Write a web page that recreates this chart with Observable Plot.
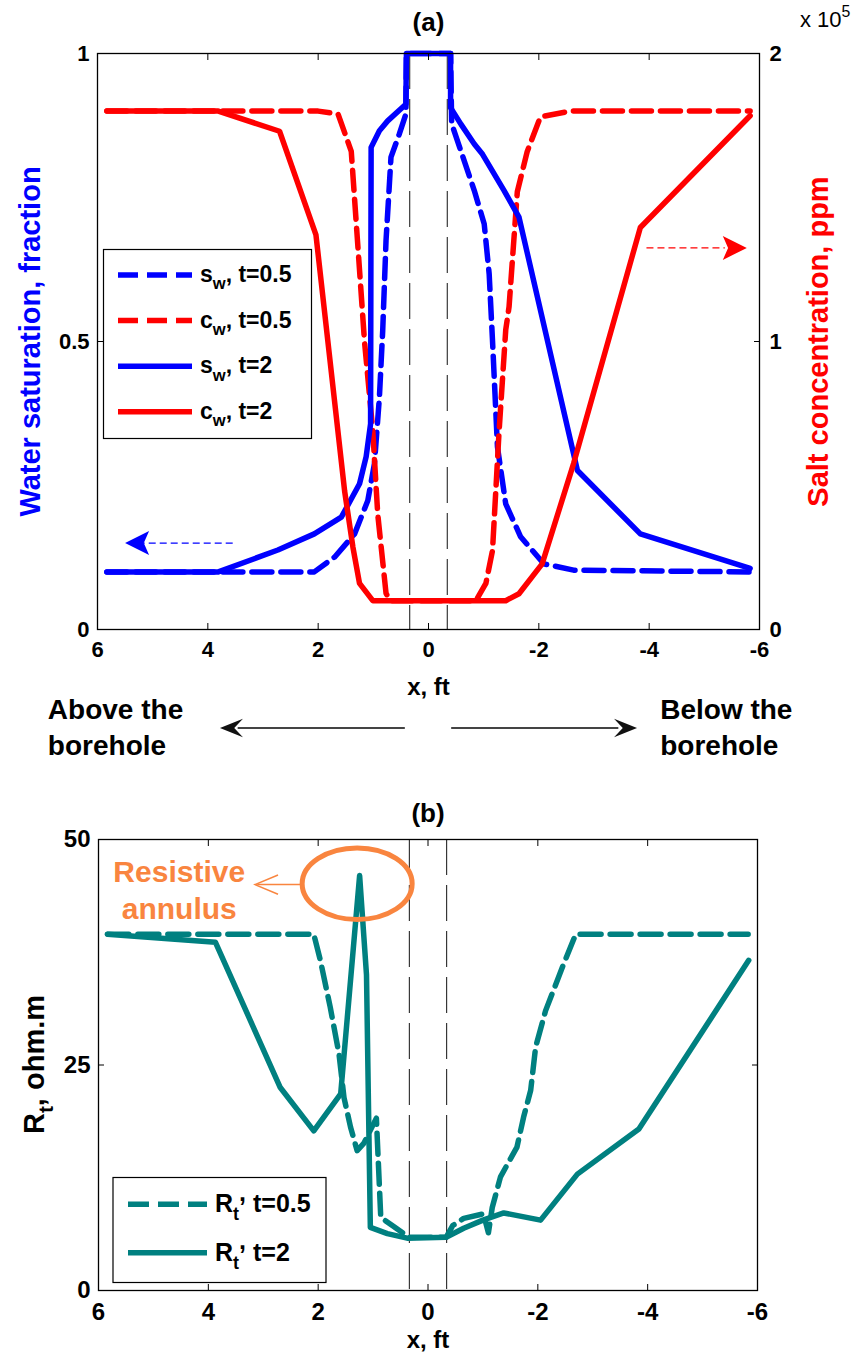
<!DOCTYPE html>
<html>
<head>
<meta charset="utf-8">
<script src="https://cdn.jsdelivr.net/npm/d3@7"></script>
<script src="https://cdn.jsdelivr.net/npm/@observablehq/plot@0.6"></script>
<style>
  html, body { margin: 0; background: #fff; }
  #fig { position: relative; width: 861px; height: 1368px; overflow: hidden; background: #fff; }
  #fig svg { position: absolute; left: 0; overflow: visible; }
</style>
</head>
<body>
<div id="fig"></div>
<script>
// ---------- data ----------
// x: distance from the borehole axis in ft (positive = above the borehole)
const xTicks = [6, 4, 2, 0, -2, -4, -6];
const swTicks = [0, 0.5, 1];
const rtTicks = [0, 25, 50];
const boreholeWall = [0.34, -0.34];
const cFull = 200000; // right axis spans 0 .. 2 x 10^5 ppm

// water saturation, t = 0.5
const swX_t05 = [5.83, 2.07, 1.70, 1.34, 1.10, 0.98, 0.89, 0.83, 0.77, 0.68, 0.53, 0.41, 0.40, -0.40, -0.42, -0.59, -0.83, -1.01, -1.10, -1.16, -1.25, -1.40, -1.67, -2.09, -2.63, -5.83];
const sw_t05  = [0.100, 0.100, 0.126, 0.166, 0.224, 0.288, 0.403, 0.519, 0.675, 0.820, 0.860, 0.895, 1.000, 1.000, 0.878, 0.830, 0.762, 0.704, 0.617, 0.502, 0.317, 0.218, 0.161, 0.114, 0.103, 0.100];
// salt concentration (ppm), t = 0.5
const cwX_t05 = [5.83, 2.00, 1.64, 1.40, 1.16, 1.01, 0.92, 0.77, 0.70, -0.86, -1.04, -1.16, -1.28, -1.40, -1.46, -1.61, -1.79, -2.03, -2.57, -5.83];
const cw_t05  = [180000, 180000, 179000, 166000, 100000, 69000, 40000, 12600, 10000, 10000, 16000, 27400, 69000, 104000, 112000, 152000, 166000, 178000, 180000, 180000];
// water saturation, t = 2
const swX_t2 = [5.83, 3.81, 2.73, 2.07, 1.58, 1.25, 1.13, 1.05, 1.04, 0.89, 0.74, 0.41, 0.40, -0.40, -0.40, -0.59, -0.83, -0.98, -1.37, -1.64, -2.70, -3.84, -5.83];
const sw_t2  = [0.100, 0.100, 0.138, 0.166, 0.195, 0.253, 0.300, 0.357, 0.837, 0.866, 0.883, 0.912, 1.000, 1.000, 0.906, 0.877, 0.843, 0.825, 0.762, 0.716, 0.276, 0.166, 0.106];
// salt concentration (ppm), t = 2
const cwX_t2 = [5.83, 3.81, 2.70, 2.04, 1.52, 1.37, 1.25, 1.01, -1.40, -1.64, -2.06, -2.63, -3.84, -5.83];
const cw_t2  = [180000, 180000, 173000, 137000, 48000, 28600, 16000, 10000, 10000, 12400, 22800, 57600, 139600, 178400];

// formation resistivity (ohm.m), t = 0.5
const rtX_t05 = [5.83, 2.08, 1.96, 1.78, 1.62, 1.53, 1.41, 1.29, 1.17, 0.94, 0.86, 0.65, 0.35, -0.33, -0.45, -0.65, -1.01, -1.10, -1.17, -1.32, -1.62, -1.74, -1.87, -1.96, -2.14, -2.47, -2.69, -5.83];
const rt_t05  = [39.5, 39.5, 36.6, 31.4, 26.2, 21.4, 18.1, 15.5, 16.3, 19.1, 8.1, 7.2, 5.9, 5.9, 7.2, 8.0, 8.5, 6.4, 9.2, 12.6, 15.9, 19.2, 22.2, 27.0, 31.0, 36.2, 39.5, 39.5];
// formation resistivity (ohm.m), t = 2
const rtX_t2 = [5.84, 3.87, 2.69, 2.08, 1.59, 1.245, 1.12, 1.05, 0.74, 0.38, -0.33, -0.65, -1.00, -1.38, -2.05, -2.72, -3.84, -5.84];
const rt_t2  = [39.5, 38.6, 22.5, 17.7, 21.8, 46.0, 35.0, 7.0, 6.3, 5.8, 5.9, 6.9, 7.8, 8.6, 7.8, 12.9, 17.9, 36.6];

// annotations (data units)
const swHint = [{from: 3.54, to: 5.15, tip: 5.5, sw: 0.15}];
const cwHint = [{from: -3.96, to: -5.38, tip: -5.77, cw: 132500}];
const sideArrows = [{from: 0.42, to: 3.45, tip: 3.78, level: -0.171}, {from: -0.42, to: -3.45, tip: -3.78, level: -0.171}];
const sideLabels = [{x: 6.9, level: -0.218, text: "Above the\nborehole"}, {x: -4.2, level: -0.218, text: "Below the\nborehole"}];
const annulusMark = [{x: 1.29, rt: 45.1}];
const annulusPointer = [{from: 2.30, to: 3.10, tip: 3.15, rt: 45.0}];
const annulusNote = [{x: 4.53, rt: 41.2, text: "Resistive\nannulus"}];

const legendA = [
  {sym: "s", sub: "w", label: ", t=0.5"},
  {sym: "c", sub: "w", label: ", t=0.5"},
  {sym: "s", sub: "w", label: ", t=2"},
  {sym: "c", sub: "w", label: ", t=2"}
];
const legendB = [
  {sym: "R", sub: "t", label: " t=0.5"},
  {sym: "R", sub: "t", label: " t=2"}
];

// ---------- styling ----------
const FONT = "'Liberation Sans', Arial, Helvetica, sans-serif";
const BLUE = "#0000ff", RED = "#ff0000", TEAL = "#008080", ORANGE = "#f9853f";
const DASH = "20,9";
const LW = 5.5;

const pts = (xs, vs) => xs.map((x, i) => ({x, v: vs[i]}));

// filled arrowhead, tip at the anchor, pointing along +x
const arrowHead = (notch, spread) => ({
  draw(ctx, size) {
    const L = Math.sqrt(size / Math.PI);
    ctx.moveTo(0, 0);
    ctx.lineTo(-L, -L * spread);
    ctx.lineTo(-L * notch, 0);
    ctx.lineTo(-L, L * spread);
    ctx.closePath();
  }
});
// open arrowhead
const chevron = {
  draw(ctx, size) {
    const L = Math.sqrt(size / Math.PI);
    ctx.moveTo(-L, -0.42 * L);
    ctx.lineTo(0, 0);
    ctx.lineTo(-L, 0.42 * L);
  }
};
// ellipse outline with horizontal semi-axis r
const ellipse = (ratio) => ({
  draw(ctx, size) {
    const rx = Math.sqrt(size / Math.PI), ry = rx * ratio, k = 0.5523;
    ctx.moveTo(rx, 0);
    ctx.bezierCurveTo(rx, k * ry, k * rx, ry, 0, ry);
    ctx.bezierCurveTo(-k * rx, ry, -rx, k * ry, -rx, 0);
    ctx.bezierCurveTo(-rx, -k * ry, -k * rx, -ry, 0, -ry);
    ctx.bezierCurveTo(k * rx, -ry, rx, -k * ry, rx, 0);
    ctx.closePath();
  }
});

// text with sub/superscript pieces
function richText(g, x, y, parts, size, attrs = {}) {
  const t = g.append("text").attr("x", x).attr("y", y).attr("font-size", size).attr("text-anchor", "start");
  for (const [k, v] of Object.entries(attrs)) t.attr(k, v);
  let shift = 0;
  for (const p of parts) {
    const target = (p.shift || 0) * size;
    const ts = t.append("tspan").attr("dy", target - shift).text(p.text);
    if (p.small) ts.attr("font-size", size * 0.72);
    shift = target;
  }
  return t;
}

function boxAxes(yTicks, yFmtLeft, yFmtRight) {
  const marks = [
    Plot.frame({stroke: "#000", strokeWidth: 1.3}),
    Plot.axisX({ticks: xTicks, anchor: "bottom", tickSize: -6, tickFormat: () => "", label: null}),
    Plot.axisX({ticks: xTicks, anchor: "top", tickSize: -6, tickFormat: () => "", label: null}),
    Plot.axisY({ticks: yTicks, anchor: "left", tickSize: -6, tickFormat: () => "", label: null}),
    Plot.axisY({ticks: yTicks, anchor: "right", tickSize: -6, tickFormat: () => "", label: null}),
    Plot.axisX({ticks: xTicks, anchor: "bottom", tickSize: 0, tickPadding: 12, tickFormat: d => `${d}`, label: null}),
    Plot.axisY({ticks: yTicks, anchor: "left", tickSize: 0, tickPadding: 8, tickFormat: yFmtLeft, label: null})
  ];
  if (yFmtRight) marks.push(Plot.axisY({ticks: yTicks, anchor: "right", tickSize: 0, tickPadding: 10, tickFormat: yFmtRight, label: null}));
  return marks;
}

const fig = d3.select("#fig");

// ---------- panel (a): saturation and salt concentration ----------
const A = {top: 53, bottom: 629, left: 97, right: 759, h: 770};
const plotA = Plot.plot({
  width: 861, height: A.h,
  marginTop: A.top, marginBottom: A.h - A.bottom, marginLeft: A.left, marginRight: 861 - A.right,
  style: {fontFamily: FONT, fontWeight: "bold", fontSize: "22px", color: "#000", background: "transparent", overflow: "visible"},
  x: {domain: [6, -6]},
  y: {domain: [0, 1]},
  marks: [
    Plot.ruleX(boreholeWall, {stroke: "#111", strokeWidth: 1, strokeDasharray: "36,10"}),
    Plot.line(pts(swX_t05, sw_t05), {x: "x", y: "v", stroke: BLUE, strokeWidth: LW, strokeDasharray: DASH, strokeLinejoin: "round"}),
    Plot.line(pts(cwX_t05, cw_t05), {x: "x", y: d => d.v / cFull, stroke: RED, strokeWidth: LW, strokeDasharray: DASH, strokeLinejoin: "round"}),
    Plot.line(pts(swX_t2, sw_t2), {x: "x", y: "v", stroke: BLUE, strokeWidth: LW, strokeLinejoin: "round"}),
    Plot.line(pts(cwX_t2, cw_t2), {x: "x", y: d => d.v / cFull, stroke: RED, strokeWidth: LW, strokeLinejoin: "round"}),
    // axis hints: saturation reads on the left axis, concentration on the right
    Plot.ruleY(swHint, {x1: "from", x2: "to", y: "sw", stroke: BLUE, strokeWidth: 1.2, strokeDasharray: "7,4"}),
    Plot.dot(swHint, {x: "tip", y: "sw", symbol: arrowHead(0.78, 0.5), r: 24, fill: BLUE, stroke: null, rotate: 180}),
    Plot.ruleY(cwHint, {x1: "from", x2: "to", y: d => d.cw / cFull, stroke: RED, strokeWidth: 1.2, strokeDasharray: "7,4"}),
    Plot.dot(cwHint, {x: "tip", y: d => d.cw / cFull, symbol: arrowHead(0.78, 0.5), r: 24, fill: RED, stroke: null, rotate: 0}),
    ...boxAxes(swTicks, d => `${d}`, d => `${d * cFull / 1e5}`),
    Plot.text(["(a)"], {frameAnchor: "top", dy: -31, lineAnchor: "middle", textAnchor: "middle", fontSize: 26}),
    Plot.text(["x, ft"], {frameAnchor: "bottom", dy: 58, lineAnchor: "middle", textAnchor: "middle", fontSize: 24}),
    Plot.text(["Water saturation, fraction"], {frameAnchor: "left", dx: -67, rotate: -90, textAnchor: "middle", lineAnchor: "middle", fill: BLUE, fontSize: 29}),
    Plot.text(["Salt concentration, ppm"], {frameAnchor: "right", dx: 59, rotate: -90, textAnchor: "middle", lineAnchor: "middle", fill: RED, fontSize: 29}),
    // direction labels below the axis
    Plot.ruleY(sideArrows, {x1: "from", x2: "to", y: "level", stroke: "#444", strokeWidth: 2}),
    Plot.dot(sideArrows, {x: "tip", y: "level", symbol: arrowHead(0.62, 0.4), r: 23, fill: "#111", stroke: null, rotate: d => d.tip > 0 ? 180 : 0}),
    Plot.text(sideLabels, {x: "x", y: "level", text: "text", textAnchor: "start", lineAnchor: "bottom", lineHeight: 1.28, fontSize: 28})
  ]
});
fig.append(() => plotA).style("top", "0px");

const gA = d3.select(plotA).append("g");
richText(gA, 800, 27, [{text: "x 10"}, {text: "5", small: true, shift: -0.45}], 22, {"font-weight": "normal"});
gA.append("rect").attr("x", 103.5).attr("y", 249.5).attr("width", 208).attr("height", 189)
  .attr("fill", "#fff").attr("stroke", "#000").attr("stroke-width", 1.2);
const legendStylesA = [
  {stroke: BLUE, dash: DASH}, {stroke: RED, dash: DASH}, {stroke: BLUE, dash: null}, {stroke: RED, dash: null}
];
legendA.forEach((d, i) => {
  const y = 275 + i * 45.6;
  gA.append("line").attr("x1", 118).attr("x2", 192).attr("y1", y).attr("y2", y)
    .attr("stroke", legendStylesA[i].stroke).attr("stroke-width", LW)
    .attr("stroke-dasharray", legendStylesA[i].dash);
  richText(gA, 200, y + 7, [{text: d.sym}, {text: d.sub, small: true, shift: 0.32}, {text: d.label}], 23);
});

// ---------- panel (b): formation resistivity ----------
const B = {top: 69, bottom: 520, left: 98, right: 757, h: 598, offset: 770};
const plotB = Plot.plot({
  width: 861, height: B.h,
  marginTop: B.top, marginBottom: B.h - B.bottom, marginLeft: B.left, marginRight: 861 - B.right,
  style: {fontFamily: FONT, fontWeight: "bold", fontSize: "24px", color: "#000", background: "transparent", overflow: "visible"},
  x: {domain: [6, -6]},
  y: {domain: [0, 50]},
  marks: [
    Plot.ruleX(boreholeWall, {stroke: "#111", strokeWidth: 1, strokeDasharray: "36,10"}),
    Plot.line(pts(rtX_t05, rt_t05), {x: "x", y: "v", stroke: TEAL, strokeWidth: LW, strokeDasharray: "21,9", strokeLinejoin: "round"}),
    Plot.line(pts(rtX_t2, rt_t2), {x: "x", y: "v", stroke: TEAL, strokeWidth: LW, strokeLinejoin: "round"}),
    Plot.dot(annulusMark, {x: "x", y: "rt", symbol: ellipse(0.65), r: 55, fill: "none", stroke: ORANGE, strokeWidth: 5}),
    Plot.ruleY(annulusPointer, {x1: "from", x2: "to", y: "rt", stroke: ORANGE, strokeWidth: 1.5}),
    Plot.dot(annulusPointer, {x: "tip", y: "rt", symbol: chevron, r: 23, fill: "none", stroke: ORANGE, strokeWidth: 1.5, rotate: 180}),
    Plot.text(annulusNote, {x: "x", y: "rt", text: "text", lineAnchor: "bottom", lineHeight: 1.22, fontSize: 30, fill: ORANGE}),
    ...boxAxes(rtTicks, d => `${d}`, null),
    Plot.text(["(b)"], {frameAnchor: "top", dy: -26, lineAnchor: "middle", textAnchor: "middle", fontSize: 26}),
    Plot.text(["x, ft"], {frameAnchor: "bottom", dy: 50, lineAnchor: "middle", textAnchor: "middle", fontSize: 24})
  ]
});
fig.append(() => plotB).style("top", `${B.offset}px`);

const gB = d3.select(plotB).append("g");
richText(gB, 0, 0, [{text: "R"}, {text: "t", small: true, shift: 0.32}, {text: ", ohm.m"}], 29,
  {"transform": `translate(44, ${(B.top + B.bottom) / 2}) rotate(-90)`, "text-anchor": "middle"});
gB.append("rect").attr("x", 113).attr("y", 407.5).attr("width", 213).attr("height", 105)
  .attr("fill", "#fff").attr("stroke", "#000").attr("stroke-width", 1.2);
legendB.forEach((d, i) => {
  const y = 434.3 + i * 48.4;
  gB.append("line").attr("x1", 128).attr("x2", 207).attr("y1", y).attr("y2", y)
    .attr("stroke", TEAL).attr("stroke-width", LW)
    .attr("stroke-dasharray", i === 0 ? "21,9" : null);
  richText(gB, 215, y + 8, [{text: d.sym}, {text: d.sub, small: true, shift: 0.32}, {text: ",", shift: -0.45}, {text: d.label, shift: 0}], 25);
});
</script>
</body>
</html>
